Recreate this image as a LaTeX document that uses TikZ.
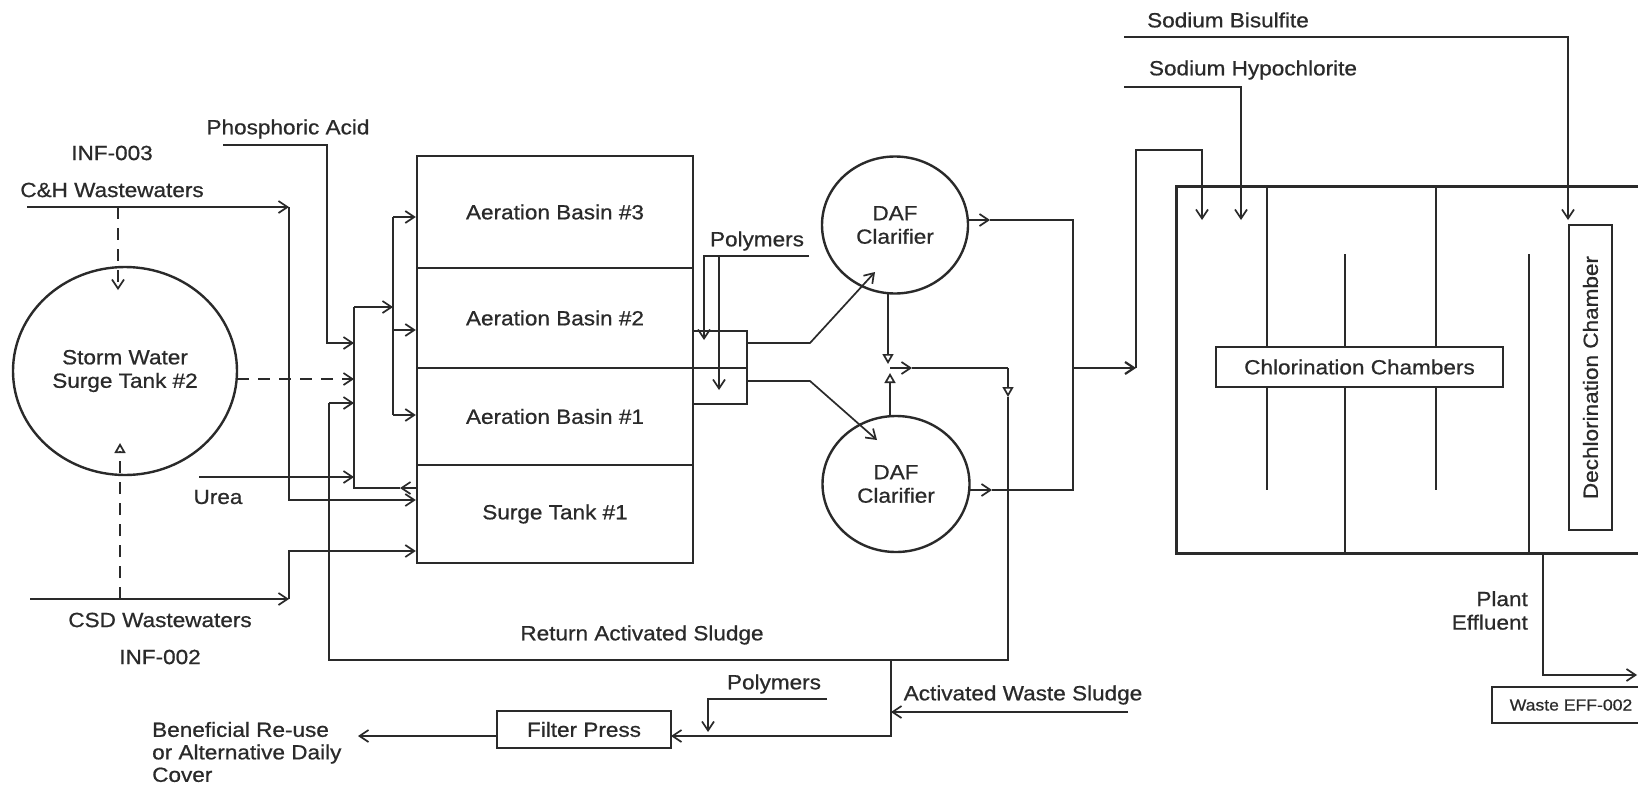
\documentclass[tikz,border=0pt]{standalone}
\usepackage{fontspec}
\setmainfont{Liberation Sans}[FakeStretch=1.1,FakeBold=0.7]
\usetikzlibrary{arrows.meta,shapes.geometric,calc}
\definecolor{ink}{HTML}{2A2A2A}
\begin{document}
\begin{tikzpicture}[x=1pt,y=-1pt,
  every node/.style={font=\fontsize{20.5}{23.5}\selectfont, text=ink},
  ln/.style={draw=ink, line width=1.7pt},
  arr/.style={ln, -{Straight Barb[length=9pt,width=12pt]}},
  tri/.style={ln, -{Triangle[open,length=10pt,width=11pt]}},
  dsh/.style={dash pattern=on 12pt off 9pt},
  box/.style={draw=ink, line width=2.4pt, rectangle, inner sep=0pt},
  thinbox/.style={draw=ink, line width=1.4pt, rectangle, inner sep=0pt, fill=white},
  circ/.style={draw=ink, line width=2.4pt, ellipse, inner sep=0pt, align=center},
  txt/.style={inner sep=0pt, align=center}]

\useasboundingbox (0,0) rectangle (1638,787);
\fill[white] (0,0) rectangle (1638,787);
\clip (0,0) rectangle (1638,787);

% ---------- tanks and basins ----------
\node[circ, minimum width=224pt, minimum height=208pt] (stw) at (125,371) {Storm Water\\Surge Tank \#2};
\node[box, minimum width=276pt, minimum height=112pt] (ab3) at (555,212) {Aeration Basin \#3};
\node[box, minimum width=276pt, minimum height=100pt] (ab2) at (555,318) {Aeration Basin \#2};
\node[box, minimum width=276pt, minimum height=97pt] (ab1) at (555,416.5) {Aeration Basin \#1};
\node[box, minimum width=276pt, minimum height=98pt] (st1) at (555,514) {Surge Tank \#1};
\node[box, minimum width=54pt, minimum height=37pt] (pm1) at (720,349.5) {};
\node[box, minimum width=54pt, minimum height=36pt] (pm2) at (720,386) {};
\node[circ, minimum width=146pt, minimum height=137pt] (dafu) at (895,225) {DAF\\Clarifier};
\node[circ, minimum width=147pt, minimum height=136pt] (dafl) at (896,484) {DAF\\Clarifier};
\node[box, minimum width=174pt, minimum height=37pt] (fp) at (584,729.5) {Filter Press};

% ---------- chlorination ----------
\node[box, line width=3pt, minimum width=524pt, minimum height=367pt] (chl) at (1438,369.5) {};
\draw[ln] (1267,186) -- (1267,490);
\draw[ln] (1345,254) -- (1345,553);
\draw[ln] (1436,186) -- (1436,490);
\draw[ln] (1529,254) -- (1529,553);
\node[thinbox, minimum width=287pt, minimum height=40pt] (chlab) at (1359.5,367) {Chlorination Chambers};
\node[thinbox, rotate=90, minimum width=305pt, minimum height=43pt] (dech) at (1590.5,377.5) {Dechlorination Chamber};
\node[thinbox, line width=1.7pt, minimum width=158pt, minimum height=36pt, font=\fontsize{16}{19}\selectfont] (weff) at (1571,705) {Waste EFF-002};

% ---------- labels ----------
\node[txt] (inf3) at (112,153) {INF-003};
\node[txt] (chw) at (112,190) {C\&H Wastewaters};
\node[txt] (csdw) at (160,620) {CSD Wastewaters};
\node[txt] (inf2) at (160,657) {INF-002};
\node[txt] (urea) at (218,497) {Urea};
\node[txt] (phos) at (288,129) {Phosphoric Acid};
\node[txt] (poly1) at (757,241) {Polymers};
\node[txt] (poly2) at (774,684) {Polymers};
\node[txt] (ras) at (642,635) {Return Activated Sludge};
\node[txt] (aws) at (1023,695) {Activated Waste Sludge};
\node[txt, anchor=west, align=left, font=\fontsize{20.5}{22.5}\selectfont] (benef) at (152,752) {Beneficial Re-use\\or Alternative Daily\\Cover};
\node[txt] (sbis) at (1228,20) {Sodium Bisulfite};
\node[txt] (shyp) at (1253,70) {Sodium Hypochlorite};
\node[txt, anchor=east, align=right] (peff) at (1528,610.5) {Plant\\Effluent};

% ---------- coordinates ----------
\coordinate (chs) at (27,207);   \coordinate (chc) at (289,207);  \coordinate (chb) at (289,500);
\coordinate (csds) at (30,599);  \coordinate (csdc) at (289,599); \coordinate (csdt) at (289,551);
\coordinate (dt) at (118,207);   \coordinate (dte) at (118,290);
\coordinate (db) at (120,599);   \coordinate (dbe) at (120,443);  \coordinate (dbm) at (120,451);
\coordinate (pas) at (223,145);  \coordinate (pac) at (327,145);  \coordinate (pae) at (327,343);
\coordinate (cpa) at (354,343);
\coordinate (dse) at (237,379);  \coordinate (cds) at (354,379);
\coordinate (ures) at (199,477); \coordinate (cur) at (354,477);
\coordinate (rasl) at (329,660); \coordinate (rast) at (329,403); \coordinate (cras) at (354,403);
\coordinate (sto) at (417,488);  \coordinate (stm) at (400,488);
\coordinate (cbot) at (354,488); \coordinate (ctop) at (354,307); \coordinate (dmid) at (393,307);
\coordinate (dtop) at (393,217); \coordinate (dbot) at (393,415); \coordinate (d2) at (393,330);
\coordinate (pt1) at (809,256);  \coordinate (pt2) at (704,256);  \coordinate (pt3) at (704,340);
\coordinate (pt4) at (719,256);  \coordinate (pt5) at (719,390);
\coordinate (p1o) at (747,343);  \coordinate (p1k) at (810,343);  \coordinate (p1e) at (875,272);
\coordinate (p2o) at (747,381);  \coordinate (p2k) at (810,381);  \coordinate (p2e) at (877,440);
\coordinate (duo) at (968,220);  \coordinate (dum) at (990,220);  \coordinate (duc) at (1073,220);
\coordinate (dlo) at (969,490);  \coordinate (dlm) at (992,490);  \coordinate (dlc) at (1073,490);
\coordinate (jn) at (1073,368);  \coordinate (ein) at (1136,368);
\coordinate (eup) at (1136,150); \coordinate (eur) at (1202,150); \coordinate (eud) at (1202,220);
\coordinate (dus) at (888,294);  \coordinate (jv1) at (888,364);
\coordinate (dls) at (890,416);  \coordinate (jv2) at (890,373);
\coordinate (jh0) at (890,368);  \coordinate (jh1) at (912,368);  \coordinate (rasr) at (1008,368);
\coordinate (rasm) at (1008,397); \coordinate (rasb) at (1008,660);
\coordinate (awt) at (891,660);  \coordinate (awb) at (891,736);  \coordinate (fpe) at (671,736);
\coordinate (awi) at (1128,712); \coordinate (awj) at (891,712);
\coordinate (pb1) at (827,699);  \coordinate (pb2) at (708,699);  \coordinate (pb3) at (708,732);
\coordinate (fpw) at (497,736);  \coordinate (bout) at (358,736);
\coordinate (sb1) at (1124,37);  \coordinate (sb2) at (1568,37);  \coordinate (sb3) at (1568,220);
\coordinate (sh1) at (1124,87);  \coordinate (sh2) at (1241,87);  \coordinate (sh3) at (1241,220);
\coordinate (pe1) at (1543,553); \coordinate (pe2) at (1543,675); \coordinate (pe3) at (1637,675);

% ---------- influent connectors ----------
\draw[arr] (chs) -- (chc);
\draw[arr] (chc) -- (chb) -- (chb -| st1.west);
\draw[arr] (csds) -- (csdc);
\draw[arr] (csdc) -- (csdt) -- (csdt -| st1.west);
\draw[arr, dsh] (dt) -- (dte);
\draw[ln, dsh] (db) -- (dbm);
\draw[tri] (dbm) -- (dbe);
\draw[arr] (pas) -- (pac) -- (pae) -- (cpa);
\draw[arr, dsh] (dse) -- (cds);
\draw[arr] (ures) -- (cur);
\draw[arr] (sto) -- (stm);
\draw[ln] (stm) -- (cbot) -- (ctop);
\draw[arr] (ctop) -- (dmid);
\draw[ln] (dtop) -- (dbot);
\draw[arr] (dtop) -- (dtop -| ab3.west);
\draw[arr] (d2) -- (d2 -| ab2.west);
\draw[arr] (dbot) -- (dbot -| ab1.west);

% ---------- polymers and DAF ----------
\draw[arr] (pt1) -- (pt2) -- (pt3);
\draw[arr] (pt4) -- (pt5);
\draw[arr] (p1o) -- (p1k) -- (p1e);
\draw[arr] (p2o) -- (p2k) -- (p2e);
\draw[arr] (duo) -- (dum);
\draw[ln] (dum) -- (duc) -- (dlc) -- (dlm);
\draw[arr] (dlo) -- (dlm);
\draw[arr, line width=2.2pt] (jn) -- (ein);
\draw[arr] (ein) -- (eup) -- (eur) -- (eud);
\draw[tri] (dus) -- (jv1);
\draw[tri] (dls) -- (jv2);
\draw[arr] (jh0) -- (jh1);
\draw[ln] (jh1) -- (rasr);
\draw[tri] (rasr) -- (rasm);
\draw[ln] (rasm) -- (rasb) -- (rasl) -- (rast);
\draw[arr] (rast) -- (cras);

% ---------- sludge handling ----------
\draw[arr] (awt) -- (awb) -- (fpe);
\draw[arr] (awi) -- (awj);
\draw[arr] (pb1) -- (pb2) -- (pb3);
\draw[arr] (fpw) -- (bout);

% ---------- chemicals and effluent ----------
\draw[arr] (sb1) -- (sb2) -- (sb3);
\draw[arr] (sh1) -- (sh2) -- (sh3);
\draw[arr] (pe1) -- (pe2) -- (pe3);
\end{tikzpicture}
\end{document}
